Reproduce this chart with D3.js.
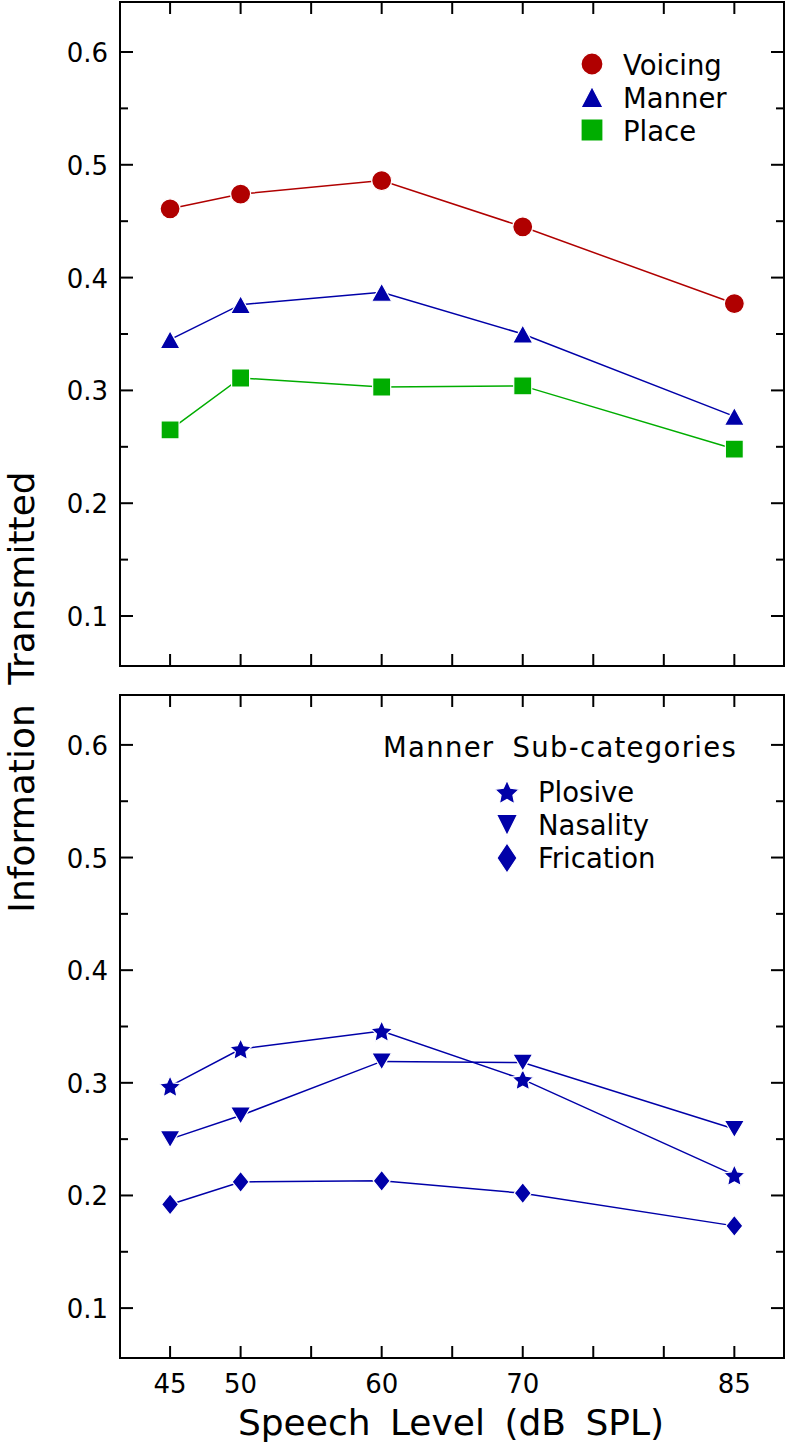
<!DOCTYPE html>
<html>
<head>
<meta charset="utf-8">
<script src="https://cdn.jsdelivr.net/npm/d3@7"></script>
<style>
  html, body { margin: 0; padding: 0; background: #fff; }
  svg { display: block; }
  text { font-family: "DejaVu Sans", sans-serif; font-weight: normal; fill: #000; }
</style>
</head>
<body>
<svg id="chart" width="786" height="1444"></svg>
<script>
// ---- data ----
const levels = [45, 50, 60, 70, 85];
const voicing  = [0.461, 0.474, 0.486, 0.445, 0.377];
const manner   = [0.345, 0.376, 0.387, 0.350, 0.277];
const place    = [0.265, 0.311, 0.303, 0.304, 0.248];
const plosive  = [0.297, 0.330, 0.346, 0.303, 0.218];
const nasality = [0.250, 0.271, 0.319, 0.318, 0.259];
const frication= [0.192, 0.212, 0.213, 0.202, 0.173];
const xTickValues = [45, 50, 55, 60, 65, 70, 75, 80, 85];
const xLabelValues = [45, 50, 60, 70, 85];
const yMajor = [0.1, 0.2, 0.3, 0.4, 0.5, 0.6];
const yMinor = [0.15, 0.25, 0.35, 0.45, 0.55];
const topLegend = ["Voicing", "Manner", "Place"];
const bottomLegendTitle = "Manner Sub-categories";
const bottomLegend = ["Plosive", "Nasality", "Frication"];
const xTitle = "Speech Level (dB SPL)";
const yTitle = "Information Transmitted";

const RED = "#b00000", BLUE = "#0000a8", GREEN = "#00ad00";

const svg = d3.select("#chart");
const L = 120, R = 784;
const x = d3.scaleLinear().domain([41.45, 88.52]).range([L, R]);
const yTop = d3.scaleLinear().domain([0.0557, 0.6443]).range([666, 2]);
const yBot = d3.scaleLinear().domain([0.0557, 0.6443]).range([1358, 695]);

// marker shapes (relative to centre)
function shapePath(type, w, h) {
  switch (type) {
    case "square": return `M${-w/2},${-h/2}H${w/2}V${h/2}H${-w/2}Z`;
    case "up": return `M0,${-h/2}L${w/2},${h/2}L${-w/2},${h/2}Z`;
    case "down": return `M0,${h/2}L${w/2},${-h/2}L${-w/2},${-h/2}Z`;
    case "diamond": return `M0,${-h/2}L${w/2},0L0,${h/2}L${-w/2},0Z`;
    case "star": {
      const Ro = w/2, Ri = Ro*0.48; let p = "";
      for (let i = 0; i < 10; i++) {
        const r = i % 2 ? Ri : Ro;
        const a = -Math.PI/2 + i*Math.PI/5;
        p += (i ? "L" : "M") + (r*Math.cos(a)).toFixed(2) + "," + (r*Math.sin(a) + Ro*0.1).toFixed(2);
      }
      return p + "Z";
    }
  }
}

function drawMarker(g, type, cx, cy, w, h, color) {
  if (type === "circle") {
    g.append("circle").attr("cx", cx).attr("cy", cy).attr("r", w/2)
      .attr("fill", color).attr("stroke", "#fff").attr("stroke-width", 1.2);
  } else {
    g.append("path").attr("d", shapePath(type, w, h))
      .attr("transform", `translate(${cx},${cy})`)
      .attr("fill", color).attr("stroke", "#fff").attr("stroke-width", 1.2);
  }
}

function panel(y, top, bottom) {
  const g = svg.append("g");
  g.append("rect").attr("x", L).attr("y", top).attr("width", R - L).attr("height", bottom - top)
    .attr("fill", "none").attr("stroke", "#000").attr("stroke-width", 2);
  const tickStyle = sel => sel.attr("stroke", "#000").attr("stroke-width", 2);
  xTickValues.forEach(v => {
    g.append("line").attr("x1", x(v)).attr("x2", x(v)).attr("y1", bottom).attr("y2", bottom - 12).call(tickStyle);
    g.append("line").attr("x1", x(v)).attr("x2", x(v)).attr("y1", top).attr("y2", top + 12).call(tickStyle);
  });
  yMajor.forEach(v => {
    g.append("line").attr("x1", L).attr("x2", L + 13).attr("y1", y(v)).attr("y2", y(v)).call(tickStyle);
    g.append("line").attr("x1", R).attr("x2", R - 13).attr("y1", y(v)).attr("y2", y(v)).call(tickStyle);
    g.append("text").attr("x", 108).attr("y", y(v) + 10).attr("text-anchor", "end")
      .attr("font-size", 26).text(v.toFixed(1));
  });
  yMinor.forEach(v => {
    g.append("line").attr("x1", L).attr("x2", L + 8).attr("y1", y(v)).attr("y2", y(v)).call(tickStyle);
    g.append("line").attr("x1", R).attr("x2", R - 8).attr("y1", y(v)).attr("y2", y(v)).call(tickStyle);
  });
  return g;
}

function series(g, y, vals, color, type, w, h) {
  const line = d3.line().x((d, i) => x(levels[i])).y(d => y(d));
  g.append("path").datum(vals).attr("d", line).attr("fill", "none")
    .attr("stroke", color).attr("stroke-width", 1.5);
  vals.forEach((v, i) => drawMarker(g, type, x(levels[i]), y(v), w, h, color));
}

// ---- top panel ----
const gt = panel(yTop, 2, 666);
series(gt, yTop, voicing, RED, "circle", 20, 20);
series(gt, yTop, manner, BLUE, "up", 20, 18);
series(gt, yTop, place, GREEN, "square", 18, 18);

const legT = [
  {t: topLegend[0], type: "circle", c: RED, w: 22, h: 22},
  {t: topLegend[1], type: "up", c: BLUE, w: 22, h: 21},
  {t: topLegend[2], type: "square", c: GREEN, w: 22, h: 22}
];
legT.forEach((d, i) => {
  const cy = 64 + i * 33;
  drawMarker(gt, d.type, 592, cy, d.w, d.h, d.c);
  gt.append("text").attr("x", 623).attr("y", cy + 11).attr("font-size", 27.5).text(d.t);
});

// ---- bottom panel ----
const gb = panel(yBot, 695, 1358);
series(gb, yBot, plosive, BLUE, "star", 23, 23);
series(gb, yBot, nasality, BLUE, "down", 20, 17);
series(gb, yBot, frication, BLUE, "diamond", 17, 21);

gb.append("text").attr("x", 383).attr("y", 757).attr("font-size", 27.5)
  .attr("letter-spacing", 1.3).attr("word-spacing", 8).text(bottomLegendTitle);
const legB = [
  {t: bottomLegend[0], type: "star", w: 26, h: 26},
  {t: bottomLegend[1], type: "down", w: 21, h: 21},
  {t: bottomLegend[2], type: "diamond", w: 20, h: 30}
];
legB.forEach((d, i) => {
  const cy = 792 + i * 33;
  drawMarker(gb, d.type, 507, cy, d.w, d.h, BLUE);
  gb.append("text").attr("x", 538).attr("y", cy + 10).attr("font-size", 27.5).text(d.t);
});

// axis labels
xLabelValues.forEach(v => {
  svg.append("text").attr("x", x(v)).attr("y", 1393).attr("text-anchor", "middle")
    .attr("font-size", 26).text(v);
});
svg.append("text").attr("x", 451).attr("y", 1435).attr("text-anchor", "middle")
  .attr("font-size", 36).attr("word-spacing", 8).text(xTitle);
svg.append("text").attr("transform", "translate(34,692) rotate(-90)").attr("text-anchor", "middle")
  .attr("font-size", 36).attr("word-spacing", 8).text(yTitle);
</script>
</body>
</html>
